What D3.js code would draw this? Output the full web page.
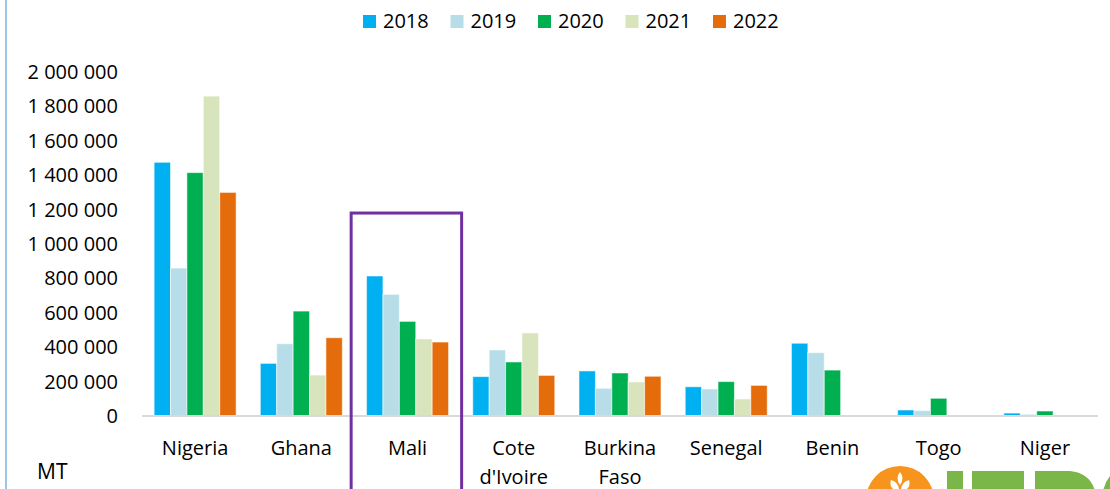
<!DOCTYPE html>
<html>
<head>
<meta charset="utf-8">
<script src="https://cdn.jsdelivr.net/npm/d3@7"></script>
<style>
    body { margin: 0; background: #fff; }
    svg { display: block; font-family: "Open Sans", sans-serif; }
</style>
</head>
<body>
<div id="chart"></div>
<script>
// Data (metric tonnes)
const countries = ["Nigeria", "Ghana", "Mali", "Cote d'Ivoire", "Burkina Faso", "Senegal", "Benin", "Togo", "Niger"];
const countryLines = [["Nigeria"], ["Ghana"], ["Mali"], ["Cote", "d'Ivoire"], ["Burkina", "Faso"], ["Senegal"], ["Benin"], ["Togo"], ["Niger"]];
const years = ["2018", "2019", "2020", "2021", "2022"];
const values2018 = [1475000, 306000, 814000, 229000, 262000, 170000, 423000, 35000, 17000];
const values2019 = [860000, 420000, 707000, 384000, 161000, 157000, 368000, 31000, 10000];
const values2020 = [1415000, 610000, 550000, 314000, 250000, 200000, 267000, 103000, 29000];
const values2021 = [1860000, 238000, 448000, 483000, 198000, 99000, 0, 0, 0];
const values2022 = [1300000, 455000, 430000, 236000, 231000, 178000, 0, 0, 0];
const yTicks = [0, 200000, 400000, 600000, 800000, 1000000, 1200000, 1400000, 1600000, 1800000, 2000000];
const highlighted = "Mali";
const highlightTop = 1180000;

const seriesValues = [values2018, values2019, values2020, values2021, values2022];
const colours = ["#00B0F0", "#B7DEE8", "#00B050", "#D8E4BC", "#E46C0A"];

const width = 1110;
const height = 489;
const margin = { top: 72, right: 12, bottom: 73, left: 142 };
const innerWidth = width - margin.left - margin.right;
const innerHeight = height - margin.top - margin.bottom;

const svg = d3.select("#chart")
    .append("svg")
    .attr("width", width)
    .attr("height", height)
    .attr("viewBox", [0, 0, width, height]);

// Left frame line
svg.append("line")
    .attr("x1", 6).attr("x2", 6)
    .attr("y1", 0).attr("y2", height)
    .attr("stroke", "#9DC3E6")
    .attr("stroke-width", 2);

const g = svg.append("g")
    .attr("transform", "translate(" + margin.left + "," + margin.top + ")");

// Scales
const xScale = d3.scaleBand()
    .domain(countries)
    .range([0, innerWidth])
    .paddingInner(0.228)
    .paddingOuter(0.114);

const xInner = d3.scaleBand()
    .domain(years)
    .range([0, xScale.bandwidth()]);

const yScale = d3.scaleLinear()
    .domain([0, 2000000])
    .range([innerHeight, 0]);

const colour = d3.scaleOrdinal().domain(years).range(colours);

const fmt = d3.formatLocale({ decimal: ",", thousands: " ", grouping: [3], currency: ["", ""] }).format(",d");

// Y axis (labels only)
const yAxis = d3.axisLeft(yScale)
    .tickValues(yTicks)
    .tickFormat(fmt)
    .tickSize(0)
    .tickPadding(24);

g.append("g")
    .attr("class", "y-axis")
    .call(yAxis)
    .call(sel => sel.select(".domain").remove())
    .selectAll("text")
    .attr("font-size", 20)
    .attr("font-family", "Open Sans, sans-serif")
    .attr("fill", "#000");

// Bars
const rows = countries.map((c, i) => ({
    country: c,
    values: years.map((y, j) => ({ year: y, value: seriesValues[j][i] }))
}));

const groups = g.append("g")
    .selectAll("g")
    .data(rows)
    .enter()
    .append("g")
    .attr("transform", d => "translate(" + xScale(d.country) + ",0)");

groups.selectAll("rect")
    .data(d => d.values.filter(v => v.value > 0))
    .enter()
    .append("rect")
    .attr("x", d => xInner(d.year))
    .attr("y", d => yScale(d.value))
    .attr("width", xInner.bandwidth())
    .attr("height", d => innerHeight - yScale(d.value))
    .attr("fill", d => colour(d.year))
    .attr("stroke", "rgba(255,255,255,0.55)")
    .attr("stroke-width", 1);

// Baseline
g.append("line")
    .attr("x1", 0).attr("x2", innerWidth)
    .attr("y1", innerHeight).attr("y2", innerHeight)
    .attr("stroke", "#D9D9D9")
    .attr("stroke-width", 2);

// X labels
const xLabels = g.append("g")
    .selectAll("text")
    .data(countries)
    .enter()
    .append("text")
    .attr("x", d => xScale(d) + xScale.bandwidth() / 2)
    .attr("y", innerHeight + 39)
    .attr("text-anchor", "middle")
    .attr("font-size", 20)
    .attr("fill", "#000");

xLabels.selectAll("tspan")
    .data((d, i) => countryLines[i])
    .enter()
    .append("tspan")
    .attr("x", function () { return d3.select(this.parentNode).attr("x"); })
    .attr("dy", (d, i) => i === 0 ? 0 : 29)
    .text(d => d);

// Highlight box round Mali
const step = xScale.step();
g.append("rect")
    .attr("x", xScale(highlighted) - step * 0.145)
    .attr("y", yScale(highlightTop))
    .attr("width", step * 1.04)
    .attr("height", innerHeight + 120)
    .attr("fill", "none")
    .attr("stroke", "#7030A0")
    .attr("stroke-width", 3);

// Unit label
svg.append("text")
    .attr("x", 37)
    .attr("y", 479)
    .attr("font-size", 21)
    .attr("fill", "#000")
    .text("MT");

// Legend
const legend = svg.append("g")
    .attr("transform", "translate(363,15)")
    .selectAll("g")
    .data(years)
    .enter()
    .append("g")
    .attr("transform", (d, i) => "translate(" + (i * 87.5) + ",0)");

legend.append("rect")
    .attr("width", 13)
    .attr("height", 13)
    .attr("fill", d => colour(d));

legend.append("text")
    .attr("x", 20)
    .attr("y", 12.5)
    .attr("font-size", 20)
    .attr("fill", "#000")
    .text(d => d);

// Partial logo, bottom right
const logo = svg.append("g");
logo.append("circle")
    .attr("cx", 900).attr("cy", 500).attr("r", 34)
    .attr("fill", "#F7941D");
logo.append("path")
    .attr("d", "M900 472 Q905 478 900 485 Q895 478 900 472 Z M891 480 Q898 482 899 489 L893 489 Q889 485 891 480 Z M909 480 Q902 482 901 489 L907 489 Q911 485 909 480 Z")
    .attr("fill", "#fff");
logo.append("rect")
    .attr("x", 947).attr("y", 471).attr("width", 16).attr("height", 20)
    .attr("fill", "#7AB648");
logo.append("rect")
    .attr("x", 972).attr("y", 471).attr("width", 52).attr("height", 20)
    .attr("fill", "#7AB648");
logo.append("path")
    .attr("d", "M1035 471 L1070 471 Q1090 473 1095 491 L1035 491 Z")
    .attr("fill", "#7AB648");
logo.append("path")
    .attr("d", "M1103 491 Q1105 482 1110 476 L1110 491 Z")
    .attr("fill", "#7AB648");
</script>
</body>
</html>
